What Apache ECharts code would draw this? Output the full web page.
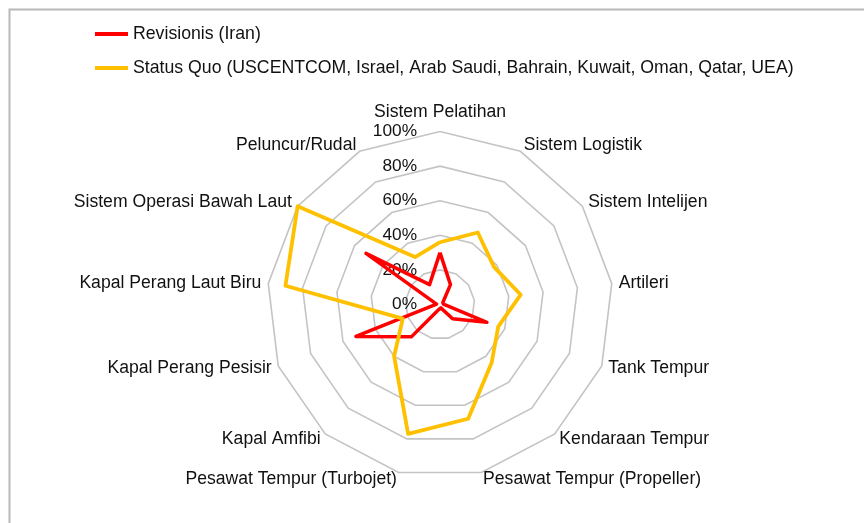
<!DOCTYPE html>
<html>
<head>
<meta charset="utf-8">
<script src="https://cdn.jsdelivr.net/npm/echarts@6/dist/echarts.min.js"></script>
<style>
  html, body { margin: 0; padding: 0; background: #ffffff; }
  #chart { width: 864px; height: 523px; }
</style>
</head>
<body>
<div id="chart"></div>
<script>
// Capability categories, listed clockwise starting from the top
const categories = [
  'Sistem Pelatihan',
  'Sistem Logistik',
  'Sistem Intelijen',
  'Artileri',
  'Tank Tempur',
  'Kendaraan Tempur',
  'Pesawat Tempur (Propeller)',
  'Pesawat Tempur (Turbojet)',
  'Kapal Amfibi',
  'Kapal Perang Pesisir',
  'Kapal Perang Laut Biru',
  'Sistem Operasi Bawah Laut',
  'Peluncur/Rudal'
];

// Values in percent, same order as categories
const revisionisIran = [30, 13, 2, 2, 29, 11, 2, 3, 25, 52, 2, 52, 13];
const statusQuo = [36, 47, 38, 47, 36, 45, 68, 77, 40, 23, 90, 100, 31];

const seriesNames = [
  'Revisionis (Iran)',
  'Status Quo (USCENTCOM, Israel, Arab Saudi, Bahrain, Kuwait, Oman, Qatar, UEA)'
];
const seriesColors = ['#ff0000', '#ffc000'];

// Scale ticks: 0% .. 100% in steps of 20
const scaleMin = 0;
const scaleMax = 100;
const scaleSteps = 5;

// ECharts lays radar indicators out counter-clockwise; reorder so the
// categories run clockwise from the top.
const order = [0].concat(categories.slice(1).map((_, i) => categories.length - 1 - i));
const reorder = arr => order.map(i => arr[i]);

const font = '"Liberation Sans", Arial, sans-serif';
const nameSize = 17.6;

const indicators = reorder(categories).map((name, i) => {
  const ind = { name: name, min: scaleMin, max: scaleMax };
  if (i === 0) {
    ind.axisLabel = {
      show: true,
      formatter: '{value}%',
      color: '#111111',
      fontFamily: font,
      fontSize: 17.3,
      margin: 23
    };
  }
  return ind;
});

const chart = echarts.init(document.getElementById('chart'), null, { renderer: 'canvas' });

chart.setOption({
  backgroundColor: '#ffffff',
  animation: false,
  graphic: [{
    type: 'rect',
    left: 7,
    top: 7,
    shape: { width: 1200, height: 1000 },
    style: { fill: 'none', stroke: '#b8b8b8', lineWidth: 2 },
    silent: true,
    z: -10
  }],
  legend: {
    orient: 'vertical',
    left: 95,
    top: 24,
    padding: 0,
    itemWidth: 33,
    itemHeight: 4,
    itemGap: 14,
    icon: 'rect',
    textStyle: {
      color: '#111111',
      fontFamily: font,
      fontSize: 17.7,
      lineHeight: 20
    },
    data: seriesNames
  },
  radar: {
    center: [440, 304.5],
    radius: 173,
    startAngle: 90,
    shape: 'polygon',
    splitNumber: scaleSteps,
    nameGap: 7,
    axisName: {
      color: '#111111',
      fontFamily: font,
      fontSize: nameSize,
      formatter: (name) => name === categories[0] ? '{top|' + name + '}' : name,
      rich: {
        top: {
          fontFamily: font,
          fontSize: nameSize,
          color: '#111111',
          padding: [0, 0, 3, 0]
        }
      }
    },
    axisLine: { show: false },
    axisTick: { show: false },
    axisLabel: { show: false },
    splitArea: { show: false },
    splitLine: { lineStyle: { color: '#c4c4c4', width: 1.6 } },
    indicator: indicators
  },
  series: [{
    type: 'radar',
    symbol: 'none',
    data: [
      {
        name: seriesNames[0],
        value: reorder(revisionisIran),
        lineStyle: { color: seriesColors[0], width: 3.5 },
        itemStyle: { color: seriesColors[0] }
      },
      {
        name: seriesNames[1],
        value: reorder(statusQuo),
        lineStyle: { color: seriesColors[1], width: 3.8 },
        itemStyle: { color: seriesColors[1] }
      }
    ]
  }]
});
</script>
</body>
</html>
